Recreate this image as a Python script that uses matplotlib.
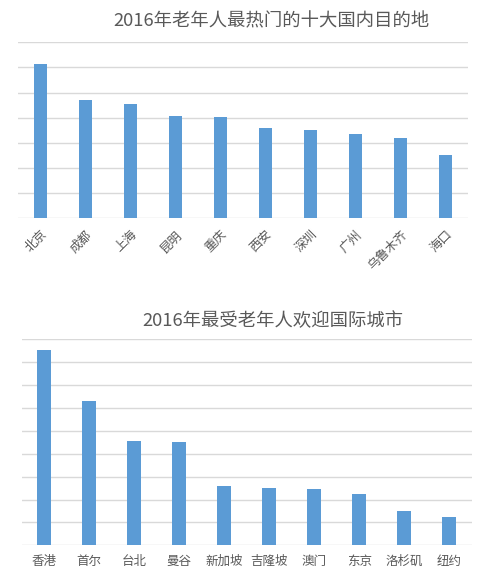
import matplotlib
matplotlib.use("Agg")
import matplotlib.pyplot as plt

plt.rcParams['font.family'] = ['Noto Sans CJK SC', 'DejaVu Sans']

# domestic destinations
dom_cities = ['北京', '成都', '上海', '昆明', '重庆', '西安', '深圳', '广州', '乌鲁木齐', '海口']
dom_values = [6.13, 4.69, 4.53, 4.05, 4.01, 3.61, 3.53, 3.37, 3.21, 2.53]

# international cities
intl_cities = ['香港', '首尔', '台北', '曼谷', '新加坡', '吉隆坡', '澳门', '东京', '洛杉矶', '纽约']
intl_values = [8.53, 6.30, 4.56, 4.51, 2.59, 2.50, 2.46, 2.24, 1.50, 1.24]

BAR = '#5b9bd5'
GRID = '#d9d9d9'
TXT = '#595959'

W, H = 500, 579
fig = plt.figure(figsize=(W / 100, H / 100), dpi=100)


def px_axes(x0, y0, x1, y1):
    return fig.add_axes([x0 / W, 1 - y1 / H, (x1 - x0) / W, (y1 - y0) / H])


def style(ax, top):
    ax.set_xlim(-0.5, 9.5)
    ax.set_ylim(0, top)
    ax.set_yticks(range(0, top + 1))
    ax.yaxis.grid(True, color=GRID, linewidth=1)
    ax.set_axisbelow(True)
    ax.tick_params(axis='y', left=False, labelleft=False)
    ax.tick_params(axis='x', bottom=False, colors=TXT)
    for s in ax.spines.values():
        s.set_visible(False)


ax1 = px_axes(18, 42.3, 468, 218.3)
ax1.bar(range(len(dom_cities)), dom_values, width=0.31, color=BAR, zorder=2)
style(ax1, 7)
ax1.set_xticks(range(len(dom_cities)))
ax1.set_xticklabels(dom_cities, rotation=45, ha='right', rotation_mode='anchor',
                    fontsize=9, color=TXT)
fig.text(271 / W, 1 - 21.5 / H, '2016年老年人最热门的十大国内目的地',
         ha='center', va='center', fontsize=13.2, color=TXT)

ax2 = px_axes(21.7, 339.3, 471.7, 545.3)
ax2.bar(range(len(intl_cities)), intl_values, width=0.31, color=BAR, zorder=2)
style(ax2, 9)
ax2.set_xticks(range(len(intl_cities)))
ax2.set_xticklabels(intl_cities, fontsize=9, color=TXT)
fig.text(273 / W, 1 - 321 / H, '2016年最受老年人欢迎国际城市',
         ha='center', va='center', fontsize=13.2, color=TXT)

fig.savefig('out.png', dpi=100, facecolor='white')
